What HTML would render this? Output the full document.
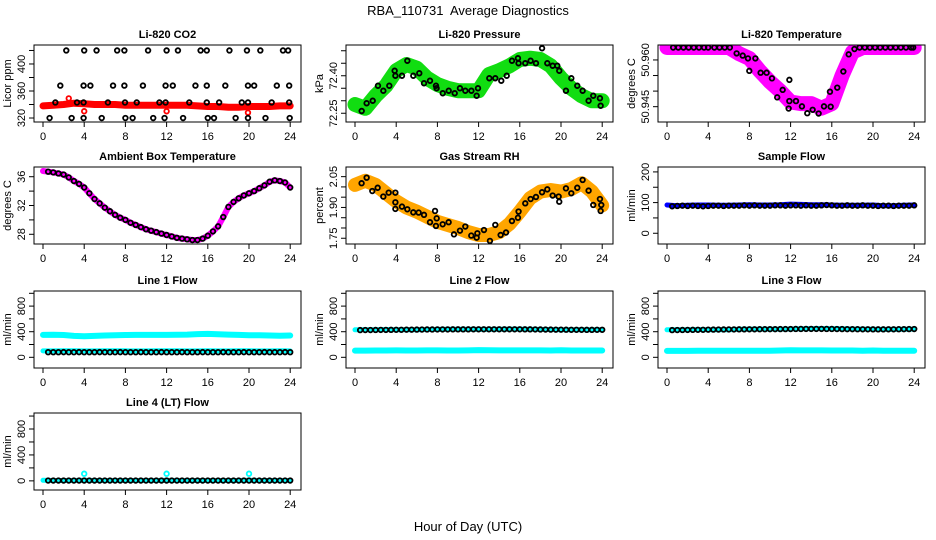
<!DOCTYPE html>
<html><head><meta charset="utf-8">
<style>
html,body{margin:0;padding:0;background:#fff;}
svg{display:block;font-family:"Liberation Sans",Arial,sans-serif;}
</style></head>
<body>
<svg id="chart" width="936" height="540" viewBox="0 0 936 540" xmlns="http://www.w3.org/2000/svg">
<text x="468" y="15" font-size="13" text-anchor="middle" xml:space="preserve">RBA_110731  Average Diagnostics</text>
<text x="468" y="531" font-size="13" text-anchor="middle">Hour of Day (UTC)</text>
</svg>
<script>
// ---------- data ----------
const hourTicks = [0,4,8,12,16,20,24];
const hourly = [0,1,2,3,4,5,6,7,8,9,10,11,12,13,14,15,16,17,18,19,20,21,22,23,24];

// CO2
const co2Cloud = [338,339,340,342,341,340,340,340,339,339,339,339,339,339,339,338,337,337,336,336,337,337,337,338,338];
const co2BlackHours = [2.26,4.0,5.2,7.2,7.9,10.2,12.0,13.1,15.3,15.9,18.1,19.8,21.1,23.3,23.8,
 1.68,3.94,4.6,6.8,7.9,9.7,11.9,12.6,14.8,15.9,17.7,19.9,20.5,22.7,23.9,
 1.2,3.3,3.94,6.3,7.96,9.1,11.3,11.9,14.2,15.9,17.1,19.3,19.9,22.2,23.9,
 0.64,2.78,3.94,5.7,8.0,8.7,10.7,11.8,13.6,16.0,16.6,18.7,19.9,21.6,23.95];
const co2BlackVals = [420,420,420,420,420,420,420,420,420,420,420,420,420,420,420,
 368,368,368,368,368,368,368,368,368,368,368,368,368,368,368,
 343,343,343,343,343,343,343,343,343,343,343,343,343,343,343,
 320,320,320,320,320,320,320,320,320,320,320,320,320,320,320];
const co2RedHours = [2.5,4.0,12.0,19.9];
const co2RedVals = [349,330,330,328];

// Pressure
const presCloud = [72.285,72.27,72.32,72.36,72.42,72.445,72.43,72.39,72.365,72.35,72.34,72.34,72.34,72.405,72.42,72.44,72.465,72.47,72.465,72.44,72.39,72.35,72.32,72.30,72.30];
const presBlackHours = [0.65,1.13,1.72,2.23,2.75,3.33,3.85,3.92,4.56,5.08,5.66,6.24,6.70,7.28,7.86,7.92,8.52,9.1,9.68,10.19,10.71,11.3,11.81,11.94,13.04,13.62,14.2,14.73,15.24,15.82,15.88,16.53,17.05,17.57,18.16,18.67,19.19,19.64,19.83,20.48,21.0,21.58,22.1,22.68,23.13,23.78,23.85];
const presBlackVals = [72.259,72.29,72.30,72.36,72.34,72.36,72.42,72.40,72.40,72.46,72.40,72.41,72.37,72.38,72.36,72.35,72.33,72.34,72.33,72.35,72.34,72.34,72.32,72.35,72.39,72.39,72.38,72.40,72.46,72.47,72.45,72.45,72.46,72.45,72.51,72.45,72.44,72.44,72.42,72.34,72.39,72.36,72.34,72.30,72.32,72.31,72.28];

// Li-820 Temperature
const tempCloud = [50.964,50.964,50.964,50.964,50.964,50.964,50.964,50.962,50.9605,50.9565,50.953,50.950,50.9465,50.946,50.946,50.9445,50.946,50.955,50.9625,50.964,50.964,50.964,50.964,50.964,50.964];
const tempBlackHours = [0.6,1.1,1.6,2.1,2.6,3.1,3.6,4.0,4.6,5.1,5.6,6.1,6.76,7.35,7.86,7.99,8.58,9.09,9.67,10.19,10.70,11.23,11.81,11.88,11.88,12.52,13.1,13.62,14.14,14.72,15.24,15.82,15.89,16.53,17.12,17.64,18.2,18.7,19.2,19.7,20.2,20.7,21.2,21.7,22.2,22.7,23.2,23.7,23.9];
const tempBlackVals = [50.964,50.964,50.964,50.964,50.964,50.964,50.964,50.964,50.964,50.964,50.964,50.964,50.9621,50.9614,50.9605,50.9565,50.9605,50.9559,50.9559,50.9541,50.948,50.9504,50.9444,50.9536,50.9468,50.9468,50.9451,50.9429,50.944,50.9428,50.9451,50.9498,50.945,50.9511,50.9563,50.9618,50.9635,50.964,50.964,50.964,50.964,50.964,50.964,50.964,50.964,50.964,50.964,50.964,50.964];

// Ambient box temperature (0.5 h steps)
const ambHours = [0,0.5,1,1.5,2,2.5,3,3.5,4,4.5,5,5.5,6,6.5,7,7.5,8,8.5,9,9.5,10,10.5,11,11.5,12,12.5,13,13.5,14,14.5,15,15.5,16,16.5,17,17.5,18,18.5,19,19.5,20,20.5,21,21.5,22,22.5,23,23.5,24];
const ambCloud = [36.8,36.7,36.6,36.45,36.3,35.9,35.4,35.0,34.5,33.7,32.9,32.3,31.7,31.2,30.7,30.3,30.0,29.6,29.3,29.0,28.7,28.5,28.3,28.1,27.9,27.7,27.5,27.4,27.3,27.2,27.2,27.4,27.8,28.4,29.1,30.4,31.8,32.5,33.0,33.4,33.7,34.0,34.4,34.8,35.3,35.5,35.4,35.2,34.5];
const ambBlack = [36.8,36.7,36.6,36.45,36.3,35.9,35.4,35.0,34.5,33.7,32.9,32.3,31.7,31.2,30.7,30.3,30.0,29.6,29.3,29.0,28.7,28.5,28.3,28.1,27.9,27.7,27.5,27.4,27.3,27.2,27.2,27.4,27.8,28.4,29.1,30.4,31.8,32.5,33.0,33.4,33.7,34.0,34.4,34.8,35.3,35.5,35.4,35.2,34.5];

// Gas stream RH
const rhCloud = [2.01,2.03,2.01,1.97,1.93,1.90,1.88,1.855,1.83,1.815,1.80,1.78,1.766,1.766,1.78,1.82,1.88,1.945,1.977,1.985,1.977,1.99,2.018,1.977,1.91];
const rhBlackHours = [0.64,1.13,1.68,2.2,2.75,3.27,3.92,3.92,3.92,4.56,5.08,5.66,6.18,6.70,7.28,7.77,7.86,7.93,8.51,9.09,9.61,10.19,10.71,11.29,11.81,11.88,12.52,13.1,13.62,14.14,14.66,15.24,15.82,15.88,16.53,17.05,17.57,18.16,18.67,19.19,19.77,19.83,20.48,21.0,21.58,22.1,22.68,23.13,23.78,23.85,23.91];
const rhBlackVals = [2.018,2.045,1.980,1.996,1.953,1.972,1.972,1.925,1.893,1.904,1.891,1.876,1.875,1.864,1.828,1.883,1.81,1.847,1.818,1.828,1.769,1.787,1.807,1.763,1.753,1.774,1.79,1.737,1.815,1.766,1.778,1.834,1.85,1.88,1.92,1.941,1.951,1.974,1.988,1.958,1.953,1.928,1.993,1.969,1.996,2.034,1.982,1.912,1.941,1.883,1.912];

// Flows
const halfHours = [0.5,1,1.5,2,2.5,3,3.5,4,4.5,5,5.5,6,6.5,7,7.5,8,8.5,9,9.5,10,10.5,11,11.5,12,12.5,13,13.5,14,14.5,15,15.5,16,16.5,17,17.5,18,18.5,19,19.5,20,20.5,21,21.5,22,22.5,23,23.5,24];
const sampleCloud = [92,90,91,92,92,91,91,92,93,92,92,93,95,94,93,93,92,91,91,91,92,90,90,91,92];
const sampleBlack = [88,89,90,89,90,89,88,89,90,90,89,90,90,90,91,90,91,90,90,90,91,91,90,91,91,90,91,90,90,91,92,91,90,90,91,90,90,91,90,90,89,90,90,89,90,90,90,91];
const line1CyanHigh = [350,352,348,335,330,335,340,345,348,350,350,350,350,352,355,362,365,360,355,350,345,345,340,338,340];
const line1CyanLow = [100,100,102,101,100,100,101,102,101,100,100,101,102,101,100,100,101,100,100,101,102,100,100,101,100];
const line1Black = [80,80,80,81,80,80,81,80,80,80,81,80,80,80,81,80,80,80,81,80,80,80,81,80,80,80,81,80,80,80,81,80,80,80,81,80,80,80,81,80,80,80,81,80,80,80,81,80];
const line2CyanHigh = [430,430,432,435,432,430,432,435,436,438,438,438,436,436,438,440,440,438,436,434,432,430,430,430,430];
const line2CyanLow = [105,105,106,106,108,106,106,108,108,106,106,108,112,110,108,108,108,108,108,106,110,106,106,106,106];
const line2Black = [425,426,426,427,428,428,429,430,430,432,432,433,434,435,435,436,436,436,437,437,437,437,438,438,438,438,438,438,438,438,438,438,437,437,436,435,434,433,432,432,431,430,430,430,429,429,430,430];
const line3CyanHigh = [430,430,432,435,432,430,432,438,440,440,440,440,442,445,448,450,448,445,442,440,438,436,436,438,440];
const line3CyanLow = [100,100,100,102,104,102,102,104,104,104,104,106,110,108,108,108,106,106,106,104,106,104,104,104,104];
const line3Black = [425,426,427,428,429,430,430,432,433,434,435,436,436,437,437,438,438,439,439,440,440,441,441,442,443,443,444,444,444,444,443,443,442,441,440,440,439,438,438,437,437,437,438,438,439,440,441,442];
const line4CyanLow = [8,6,6,6,8,6,6,6,6,6,6,6,8,6,6,6,6,6,6,6,8,6,6,6,6];
const line4Black = [5,5,5,5,5,5,5,5,5,5,5,5,5,5,5,5,5,5,5,5,5,5,5,5,5,5,5,5,5,5,5,5,5,5,5,5,5,5,5,5,5,5,5,5,5,5,5,5];
const line4OutHours = [4,12,20];
const line4OutVals = [110,110,110];

// ---------- drawing ----------
const svg = document.getElementById('chart');
const NS = 'http://www.w3.org/2000/svg';
function el(tag, attrs, parent){
  const e = document.createElementNS(NS, tag);
  for (const k in attrs) e.setAttribute(k, attrs[k]);
  (parent||svg).appendChild(e);
  return e;
}
const colL = [34,346,658], rowT = [45,167,291,413], W = 267, H = 77;

function makePanel(name, col, row, ymin, ymax, yTicks, yLabels, yTitle, title){
  const L = colL[col], T = rowT[row];
  const g = el('g', {});
  
  
  const x = h => L + 9 + h * 10.3;
  const y = v => T + (ymax - v) / (ymax - ymin) * H;
  const t = el('text', {x: L + W/2, y: T - 7, 'font-size': 11, 'font-weight': 'bold', 'text-anchor': 'middle'}, g);
  
  
  t.textContent = title;
  const plot = el('g', {}, g);
  
  
  const box = el('rect', {x: L, y: T, width: W, height: H, fill: 'none', stroke: '#000', 'stroke-width': 1}, g);
  
  
  const xa = el('g', {}, g);
  
  
  hourTicks.forEach(h => {
    el('line', {x1: x(h), x2: x(h), y1: T + H, y2: T + H + 5, stroke: '#000'}, xa);
    const lb = el('text', {x: x(h), y: T + H + 18, 'font-size': 11, 'text-anchor': 'middle'}, xa);
    
    
    lb.textContent = h;
  });
  const ya = el('g', {}, g);
  
  
  yTicks.forEach(v => el('line', {x1: L - 5, x2: L, y1: y(v), y2: y(v), stroke: '#000'}, ya));
  yLabels.forEach(v => {
    const lb = el('text', {x: 0, y: 0, 'font-size': 11, 'text-anchor': 'middle', transform: `translate(${L-9},${y(v)}) rotate(-90)`}, ya);
    
    
    lb.textContent = String(v);
  });
  const yt = el('text', {x: 0, y: 0, 'font-size': 11, 'text-anchor': 'middle', transform: `translate(${L-23},${T+H/2}) rotate(-90)`}, ya);
  
  
  yt.textContent = yTitle;
  return {x, y, plot, L, T};
}
function cloud(p, name, hours, vals, color, width){
  const pts = hours.map((h,i) => p.x(h).toFixed(1) + ',' + p.y(vals[i]).toFixed(1)).join(' ');
  const pl = el('polyline', {points: pts, fill: 'none', stroke: color, 'stroke-width': width, 'stroke-linejoin': 'round', 'stroke-linecap': 'round'}, p.plot);
  
  
}
function dots(p, name, hours, vals, color, r){
  const g = el('g', {}, p.plot);
  
  
  hours.forEach((h,i) => {
    const c = el('circle', {cx: p.x(h), cy: p.y(vals[i]), r: r||2.3, fill: 'none', stroke: color, 'stroke-width': 1.8}, g);
    
    
  });
}
function clip(p, name){
  const id = 'clip-' + name;
  const cp = el('clipPath', {id});
  el('rect', {x: p.L, y: p.T, width: W, height: H}, cp);
  p.plot.setAttribute('clip-path', `url(#${id})`);
}

// CO2
let p = makePanel('co2', 0, 0, 314.1, 428.1, [320,340,360,380,400,420], [320,360,400], 'Licor ppm', 'Li-820 CO2');
cloud(p, 'co2-cloud', hourly, co2Cloud, '#ff0000', 7);
dots(p, 'co2-red-points', co2RedHours, co2RedVals, '#ff0000');
dots(p, 'co2-black-points', co2BlackHours, co2BlackVals, '#000');

// Pressure
p = makePanel('pressure', 1, 0, 72.215, 72.523, [72.25,72.30,72.35,72.40,72.45,72.50], ['72.25','72.40'], 'kPa', 'Li-820 Pressure');
clip(p, 'pressure');
cloud(p, 'pressure-cloud', hourly, presCloud, '#11dd11', 15);
dots(p, 'pressure-black-points', presBlackHours, presBlackVals, '#000');

// Temperature
p = makePanel('temperature', 2, 0, 50.94008, 50.9648, [50.945,50.950,50.955,50.960], ['50.945','50.960'], 'degrees C', 'Li-820 Temperature');
clip(p, 'temperature');
cloud(p, 'temperature-cloud', hourly, tempCloud, '#ff00ff', 15);
dots(p, 'temperature-black-points', tempBlackHours, tempBlackVals, '#000');

// Ambient
p = makePanel('ambient', 0, 1, 26.65, 37.35, [28,30,32,34,36], [28,32,36], 'degrees C', 'Ambient Box Temperature');
clip(p, 'ambient');
cloud(p, 'ambient-cloud', ambHours, ambCloud, '#ff00ff', 6);
dots(p, 'ambient-black-points', ambHours.slice(1), ambBlack.slice(1), '#000');

// RH
p = makePanel('rh', 1, 1, 1.722, 2.097, [1.75,1.80,1.85,1.90,1.95,2.00,2.05], ['1.75','1.90','2.05'], 'percent', 'Gas Stream RH');
clip(p, 'rh');
cloud(p, 'rh-cloud', hourly, rhCloud, '#ffa500', 14);
dots(p, 'rh-black-points', rhBlackHours, rhBlackVals, '#000');

// Sample flow
p = makePanel('sample-flow', 2, 1, -35, 216, [0,50,100,150,200], [0,100,200], 'ml/min', 'Sample Flow');
cloud(p, 'sample-flow-cloud', hourly, sampleCloud, '#0000ff', 5);
dots(p, 'sample-flow-black-points', halfHours, sampleBlack, '#000');

const flowTicks = [0,200,400,600,800,1000], flowLabels = [0,400,800];
// Line 1
p = makePanel('line1-flow', 0, 2, -167, 1036, flowTicks, flowLabels, 'ml/min', 'Line 1 Flow');
cloud(p, 'line1-cyan-high', hourly, line1CyanHigh, '#00ffff', 6);
cloud(p, 'line1-cyan-low', hourly, line1CyanLow, '#00ffff', 5);
dots(p, 'line1-black-points', halfHours, line1Black, '#000');
// Line 2
p = makePanel('line2-flow', 1, 2, -167, 1036, flowTicks, flowLabels, 'ml/min', 'Line 2 Flow');
cloud(p, 'line2-cyan-high', hourly, line2CyanHigh, '#00ffff', 5);
cloud(p, 'line2-cyan-low', hourly, line2CyanLow, '#00ffff', 6);
dots(p, 'line2-black-points', halfHours, line2Black, '#000');
// Line 3
p = makePanel('line3-flow', 2, 2, -167, 1036, flowTicks, flowLabels, 'ml/min', 'Line 3 Flow');
cloud(p, 'line3-cyan-high', hourly, line3CyanHigh, '#00ffff', 5);
cloud(p, 'line3-cyan-low', hourly, line3CyanLow, '#00ffff', 6);
dots(p, 'line3-black-points', halfHours, line3Black, '#000');
// Line 4
p = makePanel('line4-flow', 0, 3, -141, 1047, flowTicks, flowLabels, 'ml/min', 'Line 4 (LT) Flow');
cloud(p, 'line4-cyan-low', hourly, line4CyanLow, '#00ffff', 5);
dots(p, 'line4-cyan-outliers', line4OutHours, line4OutVals, '#00ffff');
dots(p, 'line4-black-points', halfHours, line4Black, '#000');
</script>
</body></html>
